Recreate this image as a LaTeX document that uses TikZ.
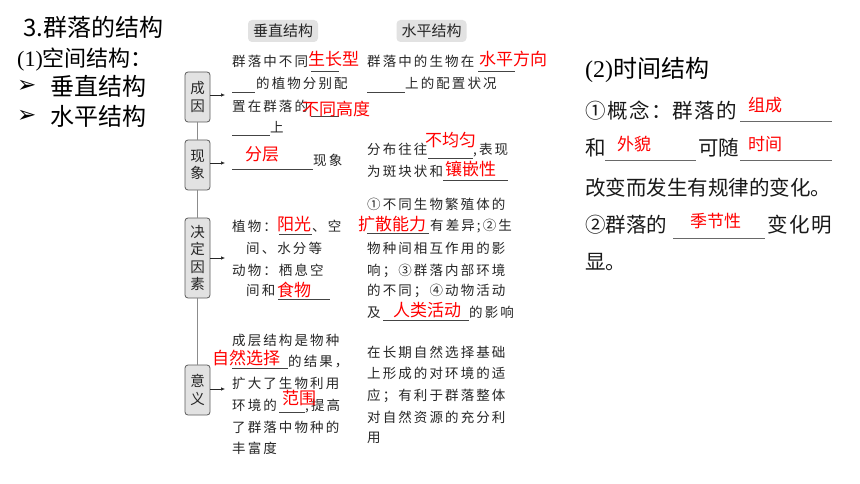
\documentclass[tikz,border=0pt]{standalone}
\usepackage{fontspec}
\setmainfont{Noto Sans CJK SC}
\newfontfamily\tbf{Noto Sans CJK SC}[LetterSpace=15.5]
\newfontfamily\rsf{Noto Sans CJK SC}[LetterSpace=7]
\newfontfamily\ser{Liberation Serif}
\newfontfamily\dej{DejaVu Sans}
\usetikzlibrary{arrows.meta}
\definecolor{txt}{HTML}{262626}
\definecolor{ulc}{HTML}{444444}
\definecolor{boxfill}{HTML}{E2E2E2}
\definecolor{boxdraw}{HTML}{5A5A5A}
\definecolor{vl}{HTML}{8C8C8C}
\definecolor{ansred}{HTML}{FF0000}
\tikzset{
  tb/.style={font=\tbf\fontsize{13.5}{13.5}\selectfont, text=txt, anchor=base west, inner sep=0pt},
  ans/.style={font=\fontsize{17}{17}\selectfont, text=ansred, anchor=base west, inner sep=0pt},
  ul/.style={draw=ulc, line width=0.7pt},
  ultwo/.style={draw=ulc!80, line width=0.7pt},
  big/.style={font=\fontsize{24}{24}\selectfont, text=black, anchor=base west, inner sep=0pt},
  midt/.style={font=\fontsize{22}{22}\selectfont, text=black, anchor=base west, inner sep=0pt},
  rt/.style={font=\fontsize{20.5}{20.5}\selectfont, text=black!90, anchor=base west, inner sep=0pt},
  rtw/.style={font=\rsf\fontsize{20.5}{20.5}\selectfont, text=black!90, anchor=base west, inner sep=0pt},
  bul/.style={font=\fontsize{24}{24}\selectfont, text=black, anchor=base west, inner sep=0pt},
  arrowglyph/.style={font=\dej\fontsize{23}{23}\selectfont, text=black, anchor=base west, inner sep=0pt},
  hdr/.style={fill=boxfill, rounded corners=4pt, minimum width=70pt, minimum height=22pt, inner sep=0pt,
     font=\fontsize{15}{15}\selectfont, text=txt},
  kbox/.style={draw=boxdraw, fill=boxfill, rounded corners=3pt, line width=0.8pt, minimum width=25pt,
     inner sep=0pt, align=center, font=\fontsize{14.5}{17.5}\selectfont, text=txt},
  vline/.style={draw=vl, line width=1.3pt},
  arr/.style={draw=txt, line width=0.6pt, -{Latex[length=4pt,width=3.5pt]}}
}
\begin{document}
\begin{tikzpicture}[x=1pt,y=-1pt]
\useasboundingbox[fill=white] (0,0) rectangle (860,484);

% left titles
\node[big] (t1) at (23,36.5) {3.群落的结构};
\node[midt] (t3) at (17,66.5) {{\ser (1)}空间结构：};
\node[arrowglyph] (g1) at (17,93) {➢};
\node[bul] (t4) at (50,96) {垂直结构};
\node[arrowglyph] (g2) at (17,122.5) {➢};
\node[bul] (t5) at (50,125.5) {水平结构};

% headers
\node[hdr] (h1) at (283,31) {垂直结构};
\node[hdr] (h2) at (431.5,31) {水平结构};

% category boxes
\node[kbox, minimum height=50pt] (k1) at (197.5,97) {成\\因};
\node[kbox, minimum height=50pt] (k2) at (197.5,165) {现\\象};
\node[kbox, minimum height=80pt] (k3) at (197.5,258) {决\\定\\因\\素};
\node[kbox, minimum height=50pt] (k4) at (197.5,390) {意\\义};
\draw[vline] (k1.south) -- (k2.north);
\draw[vline] (k2.south) -- (k3.north);
\draw[vline] (k3.south) -- (k4.north);
\coordinate (e1) at (225,95);
\coordinate (e2) at (225,163);
\coordinate (e3) at (225,258);
\coordinate (e4) at (225,389);
\draw[arr] (k1.east |- e1) -- (e1);
\draw[arr] (k2.east |- e2) -- (e2);
\draw[arr] (k3.east |- e3) -- (e3);
\draw[arr] (k4.east |- e4) -- (e4);

% row 1: 成因
\node[tb] (a1) at (232,67) {群落中不同};
\draw[ul] (311,71) -- (339,71);
\node[ans] (r1) at (308,65.5) {生长型};
\draw[ul] (232,92) -- (255,92);
\node[tb] (a2) at (256,89) {的植物分别配};
\node[tb] (a3) at (232,112) {置在群落的};
\draw[ul] (311,116) -- (339,116);
\node[ans] (r2) at (302,116) {不同高度};
\draw[ul] (232,135) -- (270,135);
\node[tb] (a4) at (270,133) {上};

\node[tb] (b1) at (367,67) {群落中的生物在};
\draw[ul] (478,71) -- (515,71);
\node[ans] (r3) at (479,65.5) {水平方向};
\draw[ul] (367,92) -- (405,92);
\node[tb] (b2) at (405,89) {上的配置状况};

% row 2: 现象
\draw[ul] (232,169) -- (313,169);
\node[ans] (r4) at (245,161) {分层};
\node[tb] (a5) at (313,166) {现象};
\node[tb] (b3) at (367,155) {分布往往};
\draw[ul] (428,158) -- (473,158);
\node[ans] (r5) at (425,147) {不均匀};
\node[tb] (b4) at (473,155) {,表现};
\node[tb] (b5) at (367,177) {为斑块状和};
\draw[ul] (443,180) -- (508,180);
\node[ans] (r6) at (445,176) {镶嵌性};

% row 3: 决定因素
\node[tb] (a6) at (232,232) {植物：};
\draw[ul] (279,234) -- (312,234);
\node[ans] (r7) at (277,230.5) {阳光};
\node[tb] (a7) at (312,232) {、空};
\node[tb] (a8) at (246,253) {间、水分等};
\node[tb] (a9) at (232,275) {动物：栖息空};
\node[tb] (a10) at (246,295) {间和};
\draw[ul] (278,299) -- (330,299);
\node[ans] (r8) at (277,296) {食物};

\node[tb] (b6) at (367,210) {①不同生物繁殖体的};
\draw[ul] (367,233) -- (429,233);
\node[ans] (r9) at (358,230.5) {扩散能力};
\node[tb] (b7) at (430,230) {有差异;②生};
\node[tb] (b8) at (367,253) {物种间相互作用的影};
\node[tb] (b9) at (367,275) {响；③群落内部环境};
\node[tb] (b10) at (367,295) {的不同；④动物活动};
\node[tb] (b11) at (367,317) {及};
\draw[ul] (383,320) -- (469,320);
\node[ans] (r10) at (393,316) {人类活动};
\node[tb] (b12) at (469,317) {的影响};

% row 4: 意义
\node[tb] (a11) at (232,345) {成层结构是物种};
\draw[ul] (232,368) -- (288,368);
\node[ans] (r11) at (212,364) {自然选择};
\node[tb] (a12) at (288,366) {的结果，};
\node[tb] (a13) at (232,388) {扩大了生物利用};
\node[tb] (a14) at (232,410) {环境的};
\draw[ul] (279,412) -- (305,412);
\node[tb] (a15) at (305,410) {,提高};
\node[ans] (r12) at (282,404) {范围};
\node[tb] (a16) at (232,432) {了群落中物种的};
\node[tb] (a17) at (232,453) {丰富度};

\node[tb] (b13) at (367,357) {在长期自然选择基础};
\node[tb] (b14) at (367,378) {上形成的对环境的适};
\node[tb] (b15) at (367,400) {应；有利于群落整体};
\node[tb] (b16) at (367,422) {对自然资源的充分利};
\node[tb] (b17) at (367,442) {用};

% right: 时间结构
\node[big] (t2) at (585,78) {{\ser (2)}时间结构};
\node[rtw] (c1) at (585,118.5) {①概念：群落的};
\draw[ultwo] (740,121) -- (832,121);
\node[ans] (r13) at (748,112) {组成};
\node[rt] (c2) at (585,155.5) {和};
\draw[ultwo] (605,160) -- (696,160);
\node[ans] (r14) at (617,151) {外貌};
\node[rt] (c3) at (698,155.5) {可随};
\draw[ultwo] (740,160) -- (832,160);
\node[ans] (r15) at (748,151) {时间};
\node[rt] (c4) at (585,196) {改变而发生有规律的变化。};
\node[rt] (c5) at (585,233) {②群落的};
\draw[ultwo] (673,238) -- (765,238);
\node[ans] (r16) at (690,227) {季节性};
\node[rtw] (c6) at (767,233) {变化明};
\node[rt] (c7) at (585,269) {显。};
\end{tikzpicture}
\end{document}
